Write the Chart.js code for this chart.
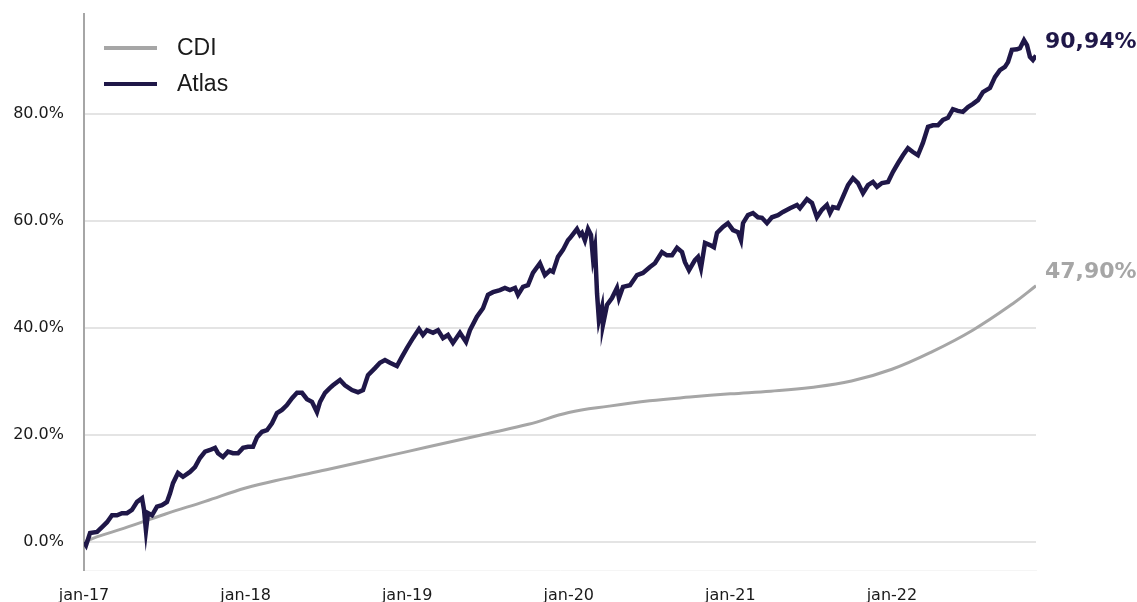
<!DOCTYPE html>
<html>
<head>
<meta charset="utf-8">
<script src="https://cdn.jsdelivr.net/npm/chart.js@4.4.1/dist/chart.umd.min.js"></script>
<style>
  html, body { margin: 0; padding: 0; background: #fff; }
  #wrap { width: 1137px; height: 602px; }
</style>
</head>
<body>
<div id="wrap"><canvas id="chart" width="1137" height="602"></canvas></div>
<script>
// x values are months since jan-17
const xTickMonths = [0, 12, 24, 36, 48, 60];
const xTickLabels = ['jan-17', 'jan-18', 'jan-19', 'jan-20', 'jan-21', 'jan-22'];
const yTicks = [0, 20, 40, 60, 80];

const cdiMonths = [0, 1, 3, 6, 9, 12, 15, 18, 21, 24, 27, 30, 33, 36, 39, 42, 45, 48, 51, 54, 57, 60, 63, 66, 69, 70.7];
const cdiValues = [0, 1.0, 2.6, 5.2, 7.6, 10.1, 11.9, 13.5, 15.2, 16.9, 18.6, 20.3, 22.0, 24.2, 25.4, 26.4, 27.1, 27.7, 28.2, 28.9, 30.1, 32.3, 35.6, 39.6, 44.6, 47.9];

const atlasMonths = [
  0, 0.15, 0.45, 0.97, 1.34, 1.71, 2.08, 2.45, 2.82, 3.19, 3.56, 3.94, 4.31, 4.46, 4.60, 4.75, 5.05, 5.42, 5.79, 6.16,
  6.39, 6.61, 6.98, 7.35, 7.87, 8.24, 8.61, 8.99, 9.36, 9.73, 9.95, 10.32, 10.69, 11.06, 11.44, 11.81, 12.18, 12.55, 12.85, 13.22,
  13.59, 13.96, 14.33, 14.70, 15.07, 15.45, 15.82, 16.19, 16.56, 16.93, 17.30, 17.53, 17.90, 18.27, 18.49, 19.01, 19.38, 19.90, 20.35, 20.72,
  21.09, 21.61, 21.98, 22.35, 22.72, 23.24, 23.61, 23.99, 24.43, 24.88, 25.17, 25.47, 25.92, 26.29, 26.66, 27.03, 27.40, 27.92, 28.37, 28.66,
  29.18, 29.63, 30.00, 30.37, 30.89, 31.26, 31.63, 32.01, 32.23, 32.60, 32.97, 33.34, 33.86, 34.23, 34.61, 34.83, 35.20, 35.57, 35.94, 36.09,
  36.61, 36.83, 36.98, 37.20, 37.43, 37.65, 37.80, 37.95, 38.10, 38.24, 38.47, 38.54, 38.84, 39.21, 39.58, 39.73, 40.03, 40.55, 41.07, 41.51,
  42.03, 42.40, 42.92, 43.29, 43.67, 44.04, 44.41, 44.63, 44.93, 45.37, 45.60, 45.82, 46.12, 46.49, 46.78, 47.01, 47.45, 47.82, 48.20, 48.57,
  48.79, 48.94, 49.31, 49.68, 50.05, 50.35, 50.72, 51.09, 51.54, 51.91, 52.43, 52.95, 53.17, 53.69, 54.06, 54.43, 54.80, 55.17, 55.40, 55.62,
  55.99, 56.36, 56.74, 57.11, 57.48, 57.85, 58.22, 58.59, 58.89, 59.26, 59.71, 60.08, 60.45, 60.82, 61.19, 61.56, 61.93, 62.30, 62.68, 63.05,
  63.42, 63.79, 64.16, 64.53, 64.90, 65.27, 65.65, 66.02, 66.39, 66.76, 67.28, 67.65, 68.02, 68.39, 68.62, 68.91, 69.29, 69.51, 69.81, 70.03,
  70.25, 70.47, 70.70
];
const atlasValues = [
  0, -0.6, 1.7, 1.9, 2.8, 3.7, 5.0, 5.0, 5.4, 5.4, 6.0, 7.5, 8.2, 6.0, 2.2, 5.4, 5.0, 6.6, 6.9, 7.5,
  9.1, 11.0, 12.9, 12.2, 13.1, 14.0, 15.7, 16.9, 17.2, 17.6, 16.6, 15.9, 16.9, 16.6, 16.6, 17.6, 17.8, 17.8, 19.6, 20.6,
  20.9, 22.2, 24.1, 24.7, 25.6, 26.9, 27.9, 27.9, 26.7, 26.2, 24.3, 26.2, 27.9, 28.8, 29.3, 30.3, 29.3, 28.4, 28.0, 28.4,
  31.2, 32.5, 33.5, 34.0, 33.5, 32.9, 34.6, 36.3, 38.1, 39.8, 38.7, 39.6, 39.1, 39.6, 38.1, 38.7, 37.2, 39.1, 37.4, 39.6,
  42.1, 43.7, 46.2, 46.7, 47.1, 47.5, 47.1, 47.5, 46.2, 47.7, 48.0, 50.3, 52.1, 49.9, 50.8, 50.5, 53.3, 54.6, 56.4, 56.8,
  58.5, 57.4, 57.8, 56.4, 58.5, 57.4, 53.1, 55.1, 46.5, 41.5, 43.9, 40.6, 44.3, 45.6, 47.5, 45.6, 47.7, 48.0, 49.9, 50.3,
  51.4, 52.1, 54.2, 53.6, 53.6, 55.0, 54.2, 52.3, 50.8, 52.7, 53.3, 51.2, 55.9, 55.5, 55.1, 57.8, 58.9, 59.6, 58.3, 57.9,
  56.4, 59.6, 61.1, 61.5, 60.7, 60.6, 59.6, 60.7, 61.1, 61.7, 62.4, 63.0, 62.4, 64.1, 63.4, 60.7, 62.1, 63.0, 61.5, 62.6,
  62.4, 64.5, 66.7, 68.0, 67.1, 65.2, 66.7, 67.3, 66.4, 67.1, 67.3, 69.2, 70.8, 72.3, 73.6, 72.9, 72.3, 74.6, 77.6, 77.9,
  77.9, 78.9, 79.3, 80.9, 80.6, 80.4, 81.3, 81.9, 82.6, 84.1, 84.9, 86.9, 88.2, 88.8, 89.7, 92.0, 92.1, 92.3, 93.8, 92.9,
  90.7, 90.1, 90.94
];

const NAVY = '#1f1748';
const GREY = '#a6a6a6';

const toPoints = (xs, ys) => xs.map((x, i) => ({ x, y: ys[i] }));

// legend drawn inside the plot, top-left
const legendPlugin = {
  id: 'cornerLegend',
  afterDraw(chart) {
    const ctx = chart.ctx;
    const rows = [48, 84];
    ctx.save();
    chart.data.datasets.forEach((ds, i) => {
      const y = rows[i];
      ctx.strokeStyle = ds.borderColor;
      ctx.lineWidth = 4;
      ctx.beginPath();
      ctx.moveTo(104, y);
      ctx.lineTo(157, y);
      ctx.stroke();
      ctx.fillStyle = '#1a1a1a';
      ctx.font = '23px "Liberation Sans", Arial, sans-serif';
      ctx.textBaseline = 'middle';
      ctx.fillText(ds.label, 177, y + 1);
    });
    ctx.restore();
  }
};

// final value labels right of the plot
const endLabels = {
  id: 'endLabels',
  afterDatasetsDraw(chart) {
    const ctx = chart.ctx;
    ctx.save();
    ctx.font = 'bold 22px "DejaVu Sans", Verdana, sans-serif';
    ctx.textBaseline = 'middle';
    chart.data.datasets.forEach((ds, i) => {
      const pts = chart.getDatasetMeta(i).data;
      const last = pts[pts.length - 1];
      const v = ds.data[ds.data.length - 1].y;
      ctx.fillStyle = ds.borderColor;
      ctx.fillText(v.toFixed(2).replace('.', ',') + '%', chart.chartArea.right + 9, last.y - 13);
    });
    ctx.restore();
  }
};

new Chart(document.getElementById('chart'), {
  type: 'line',
  data: {
    datasets: [
      { label: 'CDI', data: toPoints(cdiMonths, cdiValues), borderColor: GREY, borderWidth: 3, pointRadius: 0, tension: 0.4, order: 1 },
      { label: 'Atlas', data: toPoints(atlasMonths, atlasValues), borderColor: NAVY, borderWidth: 4.5, pointRadius: 0, tension: 0, order: 0 }
    ]
  },
  options: {
    responsive: false,
    animation: false,
    layout: { padding: { left: 0, right: 101, top: 14, bottom: 0 } },
    plugins: { legend: { display: false }, tooltip: { enabled: false } },
    scales: {
      x: {
        type: 'linear',
        min: 0,
        max: 70.7,
        afterBuildTicks: (axis) => { axis.ticks = xTickMonths.map(v => ({ value: v })); },
        afterFit: (axis) => { axis.height = 32; axis.paddingLeft = 0; axis.paddingRight = 0; },
        grid: { display: false, drawTicks: false },
        border: { display: true, color: '#f5f5f5', width: 1 },
        ticks: {
          padding: 16,
          maxRotation: 0,
          color: '#1a1a1a',
          font: { family: '"DejaVu Sans", Verdana, sans-serif', size: 16 },
          callback: (v) => xTickLabels[xTickMonths.indexOf(v)]
        }
      },
      y: {
        min: -5.23,
        max: 98.7,
        afterBuildTicks: (axis) => { axis.ticks = yTicks.map(v => ({ value: v })); },
        afterFit: (axis) => { axis.width = 84; axis.paddingTop = 0; axis.paddingBottom = 0; },
        grid: { color: '#e4e4e4', lineWidth: 2, drawTicks: false },
        border: { display: true, color: GREY, width: 2 },
        ticks: {
          padding: 20,
          color: '#1a1a1a',
          font: { family: '"DejaVu Sans", Verdana, sans-serif', size: 16 },
          callback: (v) => v.toFixed(1) + '%'
        }
      }
    }
  },
  plugins: [legendPlugin, endLabels]
});
</script>
</body>
</html>
